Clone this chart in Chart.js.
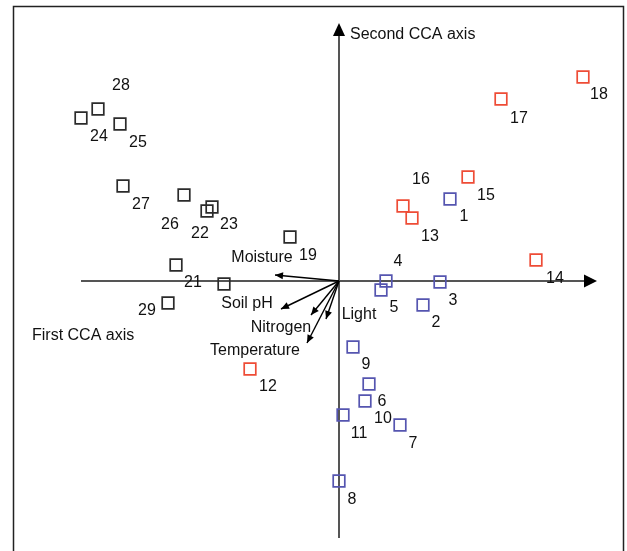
<!DOCTYPE html>
<html>
<head>
<meta charset="utf-8">
<script src="https://cdn.jsdelivr.net/npm/chart.js@4/dist/chart.umd.min.js"></script>
<style>
  html, body { margin: 0; padding: 0; background: #fff; }
  #wrap { width: 627px; height: 551px; }
</style>
</head>
<body>
<div id="wrap"><canvas id="cca" width="627" height="551"></canvas></div>
<script>
// site scores (CCA axis 1, axis 2)
const blueIds = [1, 2, 3, 4, 5, 6, 7, 8, 9, 10, 11]
const blueX = [1.11, 0.84, 1.01, 0.47, 0.42, 0.30, 0.61, 0.00, 0.14, 0.26, 0.04]
const blueY = [0.82, -0.24, -0.01, 0.00, -0.09, -1.03, -1.44, -2.00, -0.66, -1.20, -1.34]

const redIds = [12, 13, 14, 15, 16, 17, 18]
const redX = [-0.89, 0.73, 1.97, 1.29, 0.64, 1.62, 2.44]
const redY = [-0.88, 0.63, 0.21, 1.04, 0.75, 1.82, 2.04]

const blackIds = [19, 20, 21, 22, 23, 24, 25, 26, 27, 28, 29]
const blackX = [-0.49, -1.15, -1.63, -1.32, -1.27, -2.58, -2.19, -1.55, -2.16, -2.41, -1.71]
const blackY = [0.44, -0.03, 0.16, 0.70, 0.74, 1.63, 1.57, 0.86, 0.95, 1.72, -0.22]

// environmental variables (biplot arrows)
const envNames = ["Moisture", "Soil pH", "Nitrogen", "Light", "Temperature"]
const envX = [-0.64, -0.58, -0.28, -0.13, -0.32]
const envY = [0.06, -0.28, -0.34, -0.38, -0.62]

const axisNames = ["First CCA axis", "Second CCA axis"]

// label placement (pixel offsets from the point / arrow tip)
const siteLabelOffset = {
  1: [14, 18], 2: [13, 18], 3: [13, 19], 4: [12, -19], 5: [13, 18], 6: [13, 18],
  7: [13, 19], 8: [13, 19], 9: [13, 18], 10: [18, 18], 11: [16, 19], 12: [18, 18],
  13: [18, 19], 14: [19, 19], 15: [18, 19], 16: [18, -26], 17: [18, 20], 18: [16, 18],
  19: [18, 19], 21: [17, 18], 22: [-7, 23], 23: [17, 18], 24: [18, 19], 25: [18, 19],
  26: [-14, 30], 27: [18, 19], 28: [23, -23], 29: [-21, 8]
}
const envLabelOffset = [[-13, -17], [-34, -5], [-30, 13], [33, -4], [-52, 8]]

const FONT = "16px 'Liberation Sans', Arial, sans-serif"

function toPoints(xs, ys, ids) {
  return xs.map((x, i) => ({ x: x, y: ys[i], id: ids[i] }))
}

function arrowHead(ctx, x0, y0, x1, y1, len, half) {
  const a = Math.atan2(y1 - y0, x1 - x0)
  ctx.beginPath()
  ctx.moveTo(x1, y1)
  ctx.lineTo(x1 - len * Math.cos(a) + half * Math.sin(a), y1 - len * Math.sin(a) - half * Math.cos(a))
  ctx.lineTo(x1 - len * Math.cos(a) - half * Math.sin(a), y1 - len * Math.sin(a) + half * Math.cos(a))
  ctx.closePath()
  ctx.fill()
}

const backdrop = {
  id: "backdrop",
  beforeDraw(chart) {
    const ctx = chart.ctx
    ctx.save()
    ctx.fillStyle = "#fff"
    ctx.fillRect(0, 0, chart.width, chart.height)
    // frame
    ctx.strokeStyle = "#222"
    ctx.lineWidth = 1.5
    ctx.beginPath()
    ctx.moveTo(13.5, chart.height)
    ctx.lineTo(13.5, 6.5)
    ctx.lineTo(623.5, 6.5)
    ctx.lineTo(623.5, chart.height)
    ctx.stroke()
    ctx.restore()
  }
}

const ordinationAxes = {
  id: "ordinationAxes",
  beforeDatasetsDraw(chart) {
    const ctx = chart.ctx
    const sx = chart.scales.x, sy = chart.scales.y
    const ox = sx.getPixelForValue(0), oy = sy.getPixelForValue(0)
    ctx.save()
    ctx.strokeStyle = "#555"
    ctx.lineWidth = 2
    ctx.beginPath()
    ctx.moveTo(sx.getPixelForValue(-2.58), oy)
    ctx.lineTo(sx.getPixelForValue(2.50), oy)
    ctx.moveTo(ox, sy.getPixelForValue(-2.57))
    ctx.lineTo(ox, sy.getPixelForValue(2.50))
    ctx.stroke()
    ctx.fillStyle = "#000"
    arrowHead(ctx, ox, oy, sx.getPixelForValue(2.58), oy, 13, 6.5)
    arrowHead(ctx, ox, oy, ox, sy.getPixelForValue(2.58), 13, 6)
    ctx.restore()
  },
  afterDatasetsDraw(chart) {
    const ctx = chart.ctx
    const sx = chart.scales.x, sy = chart.scales.y
    const ox = sx.getPixelForValue(0), oy = sy.getPixelForValue(0)
    ctx.save()
    ctx.font = FONT
    ctx.fillStyle = "#111"
    ctx.textBaseline = "middle"

    // env arrows
    ctx.strokeStyle = "#000"
    ctx.lineWidth = 1.4
    envNames.forEach((name, i) => {
      const tx = sx.getPixelForValue(envX[i]), ty = sy.getPixelForValue(envY[i])
      ctx.beginPath()
      ctx.moveTo(ox, oy)
      ctx.lineTo(tx, ty)
      ctx.stroke()
      ctx.fillStyle = "#000"
      arrowHead(ctx, ox, oy, tx, ty, 8, 3.5)
      ctx.fillStyle = "#111"
      ctx.textAlign = "center"
      ctx.fillText(name, tx + envLabelOffset[i][0], ty + envLabelOffset[i][1])
    })

    // site numbers
    ctx.textAlign = "center"
    chart.data.datasets.forEach(ds => {
      ds.data.forEach(p => {
        const off = siteLabelOffset[p.id]
        if (!off) return
        ctx.fillText(String(p.id), sx.getPixelForValue(p.x) + off[0], sy.getPixelForValue(p.y) + off[1])
      })
    })

    // axis titles
    ctx.textAlign = "left"
    ctx.fillText(axisNames[1], ox + 11, 35)
    ctx.fillText(axisNames[0], 32, 336)
    ctx.restore()
  }
}

function siteSet(xs, ys, ids, color) {
  return {
    data: toPoints(xs, ys, ids),
    pointStyle: "rect",
    pointRadius: 8.2,
    pointHoverRadius: 8.2,
    borderWidth: 1.7,
    borderColor: color,
    backgroundColor: "rgba(0,0,0,0)"
  }
}

new Chart(document.getElementById("cca"), {
  type: "scatter",
  data: {
    datasets: [
      siteSet(blackX, blackY, blackIds, "#2b2b2b"),
      siteSet(blueX, blueY, blueIds, "#5555b0"),
      siteSet(redX, redY, redIds, "#ee4c36")
    ]
  },
  options: {
    responsive: false,
    devicePixelRatio: 1,
    animation: false,
    layout: { padding: 0, autoPadding: false },
    plugins: { legend: { display: false }, tooltip: { enabled: false } },
    scales: {
      x: { type: "linear", display: false, min: -3.39, max: 2.88 },
      y: { type: "linear", display: false, min: -2.70, max: 2.81 }
    }
  },
  plugins: [backdrop, ordinationAxes]
})
</script>
</body>
</html>
